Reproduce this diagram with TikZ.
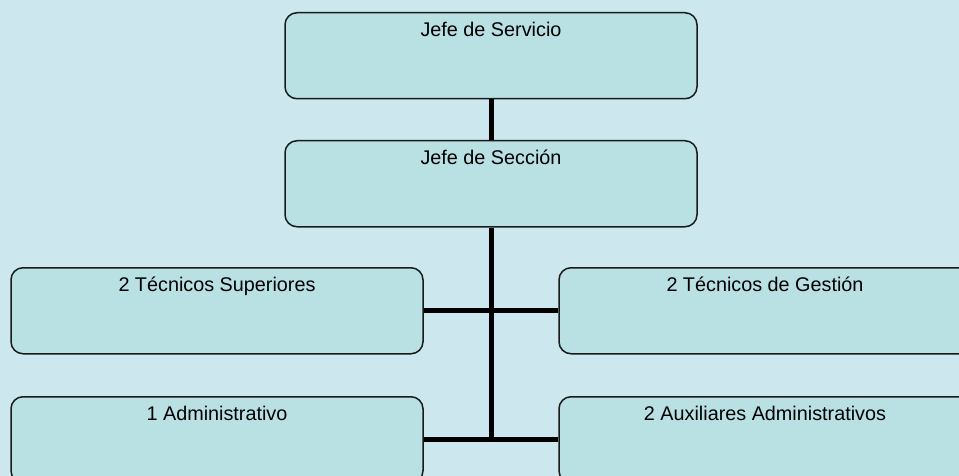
\documentclass[tikz,border=0pt]{standalone}
\usepackage{fontspec}
\setmainfont{Liberation Sans}
\definecolor{bgblue}{HTML}{CCE7EE}
\definecolor{boxfill}{HTML}{B9E0E3}
\definecolor{boxline}{HTML}{1A1A1A}
\begin{document}
\begin{tikzpicture}[x=1pt,y=-1pt,
  orgbox/.style={draw=boxline, line width=1.5pt, fill=boxfill, rounded corners=12pt,
    minimum width=412pt, inner sep=0pt, text height=24pt, text depth=62pt,
    font=\fontsize{19.8}{23}\selectfont},
  conn/.style={line width=5pt, black}]
\useasboundingbox (0,0) rectangle (959,476);
\fill[bgblue] (0,0) rectangle (959,476);
\clip (0,0) rectangle (959,476);
\node[orgbox] (js) at (491,12) [anchor=north] {Jefe de Servicio};
\node[orgbox] (jsec) at (491,140) [anchor=north] {Jefe de Sección};
\node[orgbox] (ts) at (217,267) [anchor=north] {2 Técnicos Superiores};
\node[orgbox] (tg) at (765,267) [anchor=north] {2 Técnicos de Gestión};
\node[orgbox] (ad) at (217,396) [anchor=north] {1 Administrativo};
\node[orgbox] (aux) at (765,396) [anchor=north] {2 Auxiliares Administrativos};
\coordinate (bot) at (491,440);
\draw[conn] (js.south) -- (jsec.north);
\draw[conn] (jsec.south) -- (bot);
\draw[conn] (ts.east) -- (tg.west);
\draw[conn] (ad.east) -- (aux.west);
\end{tikzpicture}
\end{document}
